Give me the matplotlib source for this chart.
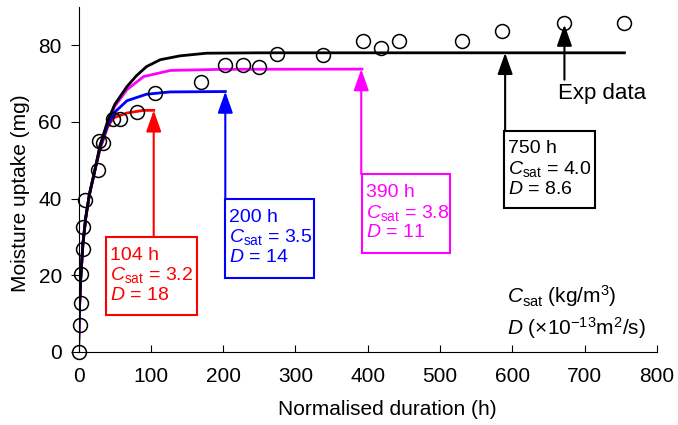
import matplotlib
matplotlib.use('Agg')
import matplotlib.pyplot as plt
from matplotlib.patches import Rectangle

plt.rcParams['font.family'] = ['Liberation Sans', 'DejaVu Sans']
plt.rcParams['mathtext.fontset'] = 'custom'
plt.rcParams['mathtext.rm'] = 'Liberation Sans'
plt.rcParams['mathtext.it'] = 'Liberation Sans:italic'

# Experimental data (normalised duration h, moisture uptake mg)
exp_x = [0, 2, 3, 3, 6, 6, 9, 27, 28, 34, 48, 58, 81, 106, 170, 203, 227, 250,
         274, 338, 394, 418, 443, 531, 586, 672, 755]
exp_y = [0, 7.0, 12.8, 20.3, 26.9, 32.7, 39.7, 47.5, 54.9, 54.5, 60.8, 60.8, 62.6,
         67.6, 70.3, 74.9, 74.7, 74.4, 77.7, 77.5, 81.0, 79.2, 81.1, 81.1, 83.8,
         85.9, 85.9]

# Model curves
red_x = [0, 1, 3, 6, 10, 15, 21, 30, 40, 48, 67, 90, 104]
red_y = [0, 10, 19, 28, 35, 41, 46, 53, 58.5, 61, 62.3, 63, 63]
blue_x = [0, 1, 3, 6, 10, 15, 21, 30, 40, 50, 67, 94, 127, 203]
blue_y = [0, 10, 19, 28, 35, 41, 46, 53.5, 59, 62.5, 65.5, 67.2, 67.8, 67.9]
mag_x = [0, 1, 3, 6, 10, 15, 21, 30, 40, 50, 67, 90, 127, 200, 392]
mag_y = [0, 10, 19, 28, 35, 41, 46, 54, 59.5, 64, 68.4, 71.8, 73.4, 73.7, 73.75]
blk_x = [0, 1, 3, 6, 10, 15, 21, 30, 40, 50, 67, 80, 94, 113, 140, 177, 250, 755]
blk_y = [0, 10, 19, 28, 35, 41, 46, 54, 60, 64.5, 69.2, 72, 74.4, 76.2, 77.2, 77.9, 78, 78]

# Annotation boxes
labels = ['104 h\n$C_\\mathrm{sat}$ = 3.2\n$D$ = 18',
          '200 h\n$C_\\mathrm{sat}$ = 3.5\n$D$ = 14',
          '390 h\n$C_\\mathrm{sat}$ = 3.8\n$D$ = 11',
          '750 h\n$C_\\mathrm{sat}$ = 4.0\n$D$ = 8.6']
colors = ['#ff0000', '#0000ff', '#ff00ff', 'black']
arrow_x = [104, 203, 391, 590]
arrow_tip = [63, 67.9, 73.75, 78]
box_left = [38, 202.6, 392, 588.5]
box_right = [164, 325.7, 514, 714.4]
box_top = [30, 39.9, 46.4, 57.7]
box_bottom = [9.6, 19.3, 25.8, 37.6]

fig = plt.figure(figsize=(6.78, 4.25), dpi=100)
ax = fig.add_axes([0.1158, 0.172, 0.8532, 0.812])

for xs, ys, c in [(red_x, red_y, colors[0]), (mag_x, mag_y, colors[2]),
                  (blue_x, blue_y, colors[1]), (blk_x, blk_y, colors[3])]:
    ax.plot(xs, ys, color=c, lw=2, solid_joinstyle='round')

ax.plot(exp_x, exp_y, 'o', ms=10, mfc='none', mec='black', mew=1.1, clip_on=False, zorder=5)

arrow_style = '-|>,head_length=0.65,head_width=0.23'
for i in range(len(labels)):
    c = colors[i]
    ax.annotate('', xy=(arrow_x[i], arrow_tip[i]), xytext=(arrow_x[i], box_top[i]),
                arrowprops=dict(arrowstyle=arrow_style, color=c, lw=1.5,
                                mutation_scale=20, shrinkA=0, shrinkB=0))
    ax.add_patch(Rectangle((box_left[i], box_bottom[i]), box_right[i] - box_left[i],
                           box_top[i] - box_bottom[i], fc='white', ec=c, lw=1.5, zorder=3))
    ax.annotate(labels[i], xy=(box_left[i], box_top[i]), xytext=(3, -7),
                textcoords='offset points', ha='left', va='top', fontsize=14,
                color=c, linespacing=1.12, zorder=4)

# Exp data pointer
ax.annotate('', xy=(672, 85.9), xytext=(672, 71),
            arrowprops=dict(arrowstyle=arrow_style, color='black', lw=1.5,
                            mutation_scale=20, shrinkA=0, shrinkB=1.5))
ax.text(663, 67.3, 'Exp data', fontsize=16, ha='left', va='center')

ax.text(592, 14.6, '$C_\\mathrm{sat}$ (kg/m$^3$)', fontsize=15, ha='left', va='center')
ax.text(592, 6.3, '$D$ ($\\times$10$^{-13}$m$^2$/s)', fontsize=15, ha='left', va='center')

ax.set_xlim(0, 800)
ax.set_ylim(0, 90)
ax.set_xticks(range(0, 801, 100))
ax.set_yticks(range(0, 81, 20))
ax.spines['top'].set_visible(False)
ax.spines['right'].set_visible(False)
ax.tick_params(axis='x', direction='in', length=5, labelsize=15, pad=11)
ax.tick_params(axis='y', direction='out', length=6, labelsize=15, pad=6)
ax.set_xlabel('Normalised duration (h)', fontsize=15)
ax.set_ylabel('Moisture uptake (mg)', fontsize=15)
ax.xaxis.set_label_coords(0.533, -0.168)
ax.yaxis.set_label_coords(-0.101, 0.46)
ax.xaxis.label.set_va('center')
ax.yaxis.label.set_va('center')

fig.savefig('out.png', dpi=100)
